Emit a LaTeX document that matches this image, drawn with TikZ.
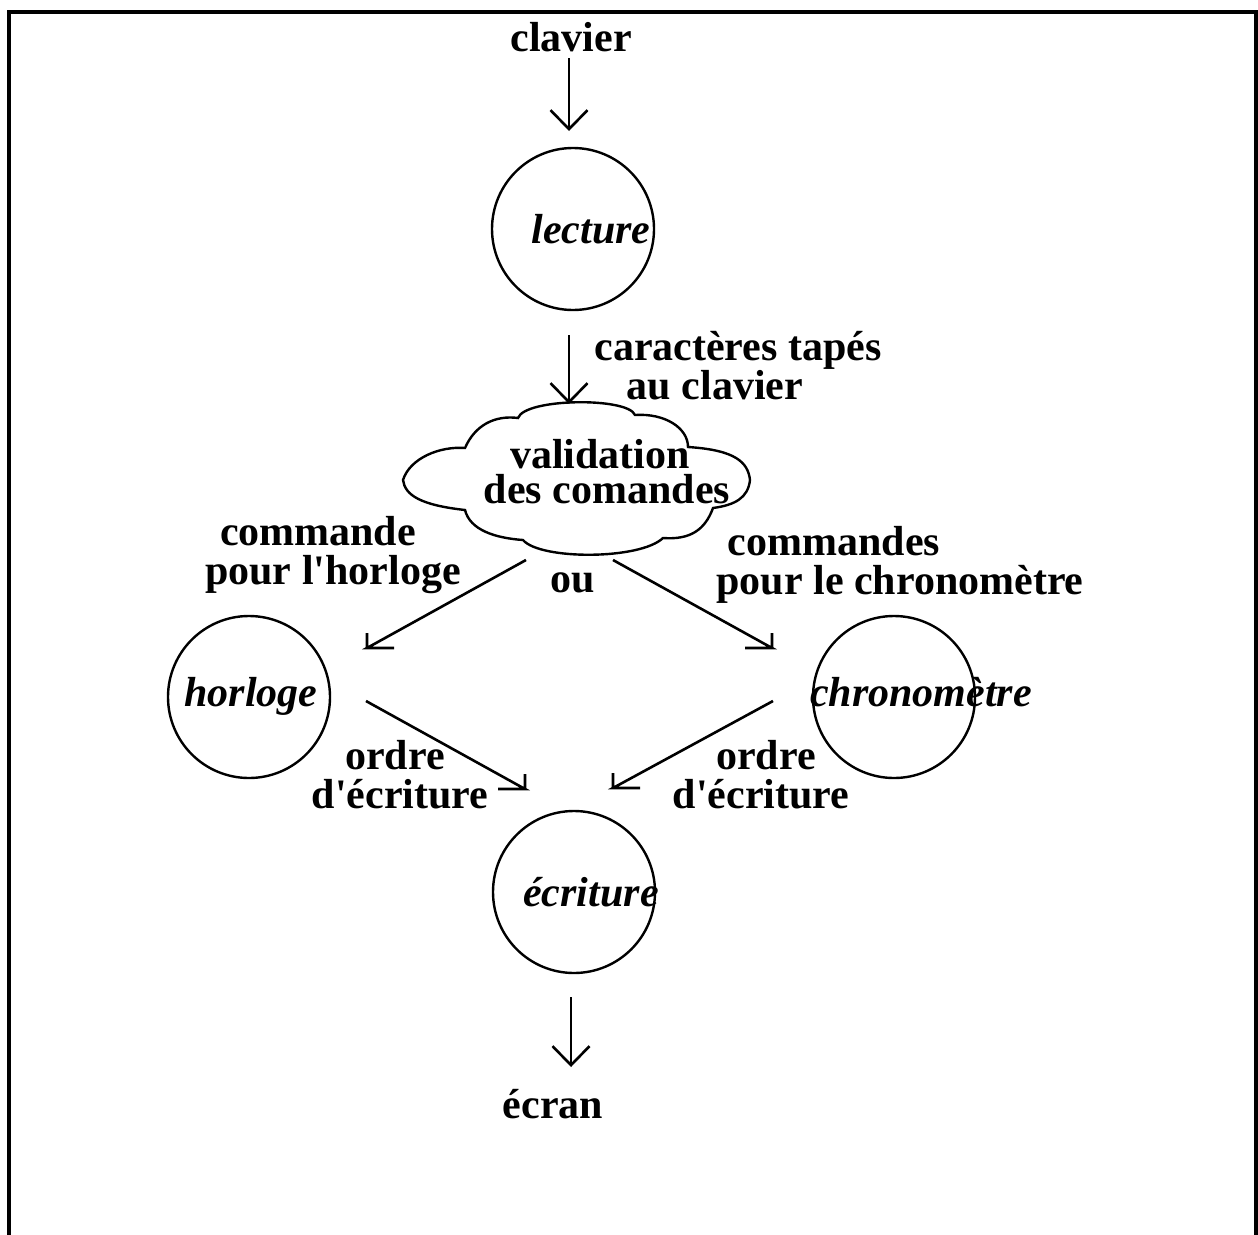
\documentclass[tikz,border=0pt]{standalone}
\usepackage{fontspec}
\setmainfont{Liberation Serif}[Ligatures=TeXOff]
\usetikzlibrary{arrows.meta}
\begin{document}
\begin{tikzpicture}[x=1pt,y=-1pt,
  lab/.style={anchor=base,inner sep=0pt,font=\fontsize{42}{42}\selectfont\bfseries},
  ilab/.style={anchor=base,inner sep=0pt,font=\fontsize{42}{42}\selectfont\bfseries\itshape},
  proc/.style={draw,circle,line width=2.4pt,minimum size=162pt,inner sep=0pt},
  conn/.style={line width=2.6pt},
  vconn/.style={line width=2.6pt,-{Straight Barb[length=19pt,width=37pt,line width=2.6pt]}},
  frame/.style={line width=3.5pt}]
\useasboundingbox (0,0) rectangle (1258,1234);
\draw[frame] (9,1240) -- (9,12) -- (1256,12) -- (1256,1240);

% processes
\node[proc] (lecture) at (573,229) {};
\node[proc] (horloge) at (249,697) {};
\node[proc] (chrono) at (894,697) {};
\node[proc] (ecriture) at (574,892) {};
\node[ilab] (tlecture) at (591,243) {lecture};
\node[ilab] (thorloge) at (251,706) {horloge};
\node[ilab] (tchrono) at (921,706) {chronomètre};
\node[ilab] (tecriture) at (591,906) {écriture};

% cloud
\draw[line width=2.4pt] (403,480)
  .. controls (410,458) and (440,446) .. (465,448)
  .. controls (475,425) and (495,415) .. (518,418)
  .. controls (525,398) and (628,397) .. (635,415)
  .. controls (665,413) and (688,428) .. (688,447)
  .. controls (735,450) and (748,462) .. (750,480)
  .. controls (748,498) and (735,505) .. (713,508)
  .. controls (705,530) and (690,540) .. (663,538)
  .. controls (640,560) and (540,560) .. (523,540)
  .. controls (495,538) and (470,530) .. (465,510)
  .. controls (420,505) and (405,495) .. (403,480) -- cycle;
\node[lab] (tval1) at (600,468) {validation};
\node[lab] (tval2) at (607,503) {des comandes};

% labels
\node[lab] (clavier) at (571,51) {clavier};
\node[lab] (ecran) at (553,1118) {écran};
\node[lab] (car1) at (738,360) {caractères tapés};
\node[lab] (car2) at (715,399) {au clavier};
\node[lab] (ch1) at (318,545) {commande};
\node[lab] (ch2) at (333,584) {pour l'horloge};
\node[lab] (ou) at (573,592) {ou};
\node[lab] (cc1) at (834,555) {commandes};
\node[lab] (cc2) at (900,594) {pour le chronomètre};
\node[lab] (oh1) at (395,769) {ordre};
\node[lab] (oh2) at (400,808) {d'écriture};
\node[lab] (oc1) at (766,769) {ordre};
\node[lab] (oc2) at (761,808) {d'écriture};

% connector end points
\coordinate (k1) at (569,58);   \coordinate (k2) at (569,131);
\coordinate (c1) at (569,335);  \coordinate (c2) at (569,404);
\coordinate (e1) at (571,997);  \coordinate (e2) at (571,1067);
\coordinate (h1) at (526,560);  \coordinate (h2) at (367,648);
\coordinate (r1) at (613,560);  \coordinate (r2) at (772,648);
\coordinate (hw1) at (366,701); \coordinate (hw2) at (525,789);
\coordinate (cw1) at (773,701); \coordinate (cw2) at (613,788);

\draw[vconn] (k1) -- (k2);
\draw[vconn] (c1) -- (c2);
\draw[vconn] (e1) -- (e2);
\draw[conn] (h1) -- (h2) -- ++(27,0) (h2) -- ++(0,-15);
\draw[conn] (r1) -- (r2) -- ++(-27,0) (r2) -- ++(0,-15);
\draw[conn] (hw1) -- (hw2) -- ++(-27,0) (hw2) -- ++(0,-15);
\draw[conn] (cw1) -- (cw2) -- ++(27,0) (cw2) -- ++(0,-15);
\end{tikzpicture}
\end{document}
